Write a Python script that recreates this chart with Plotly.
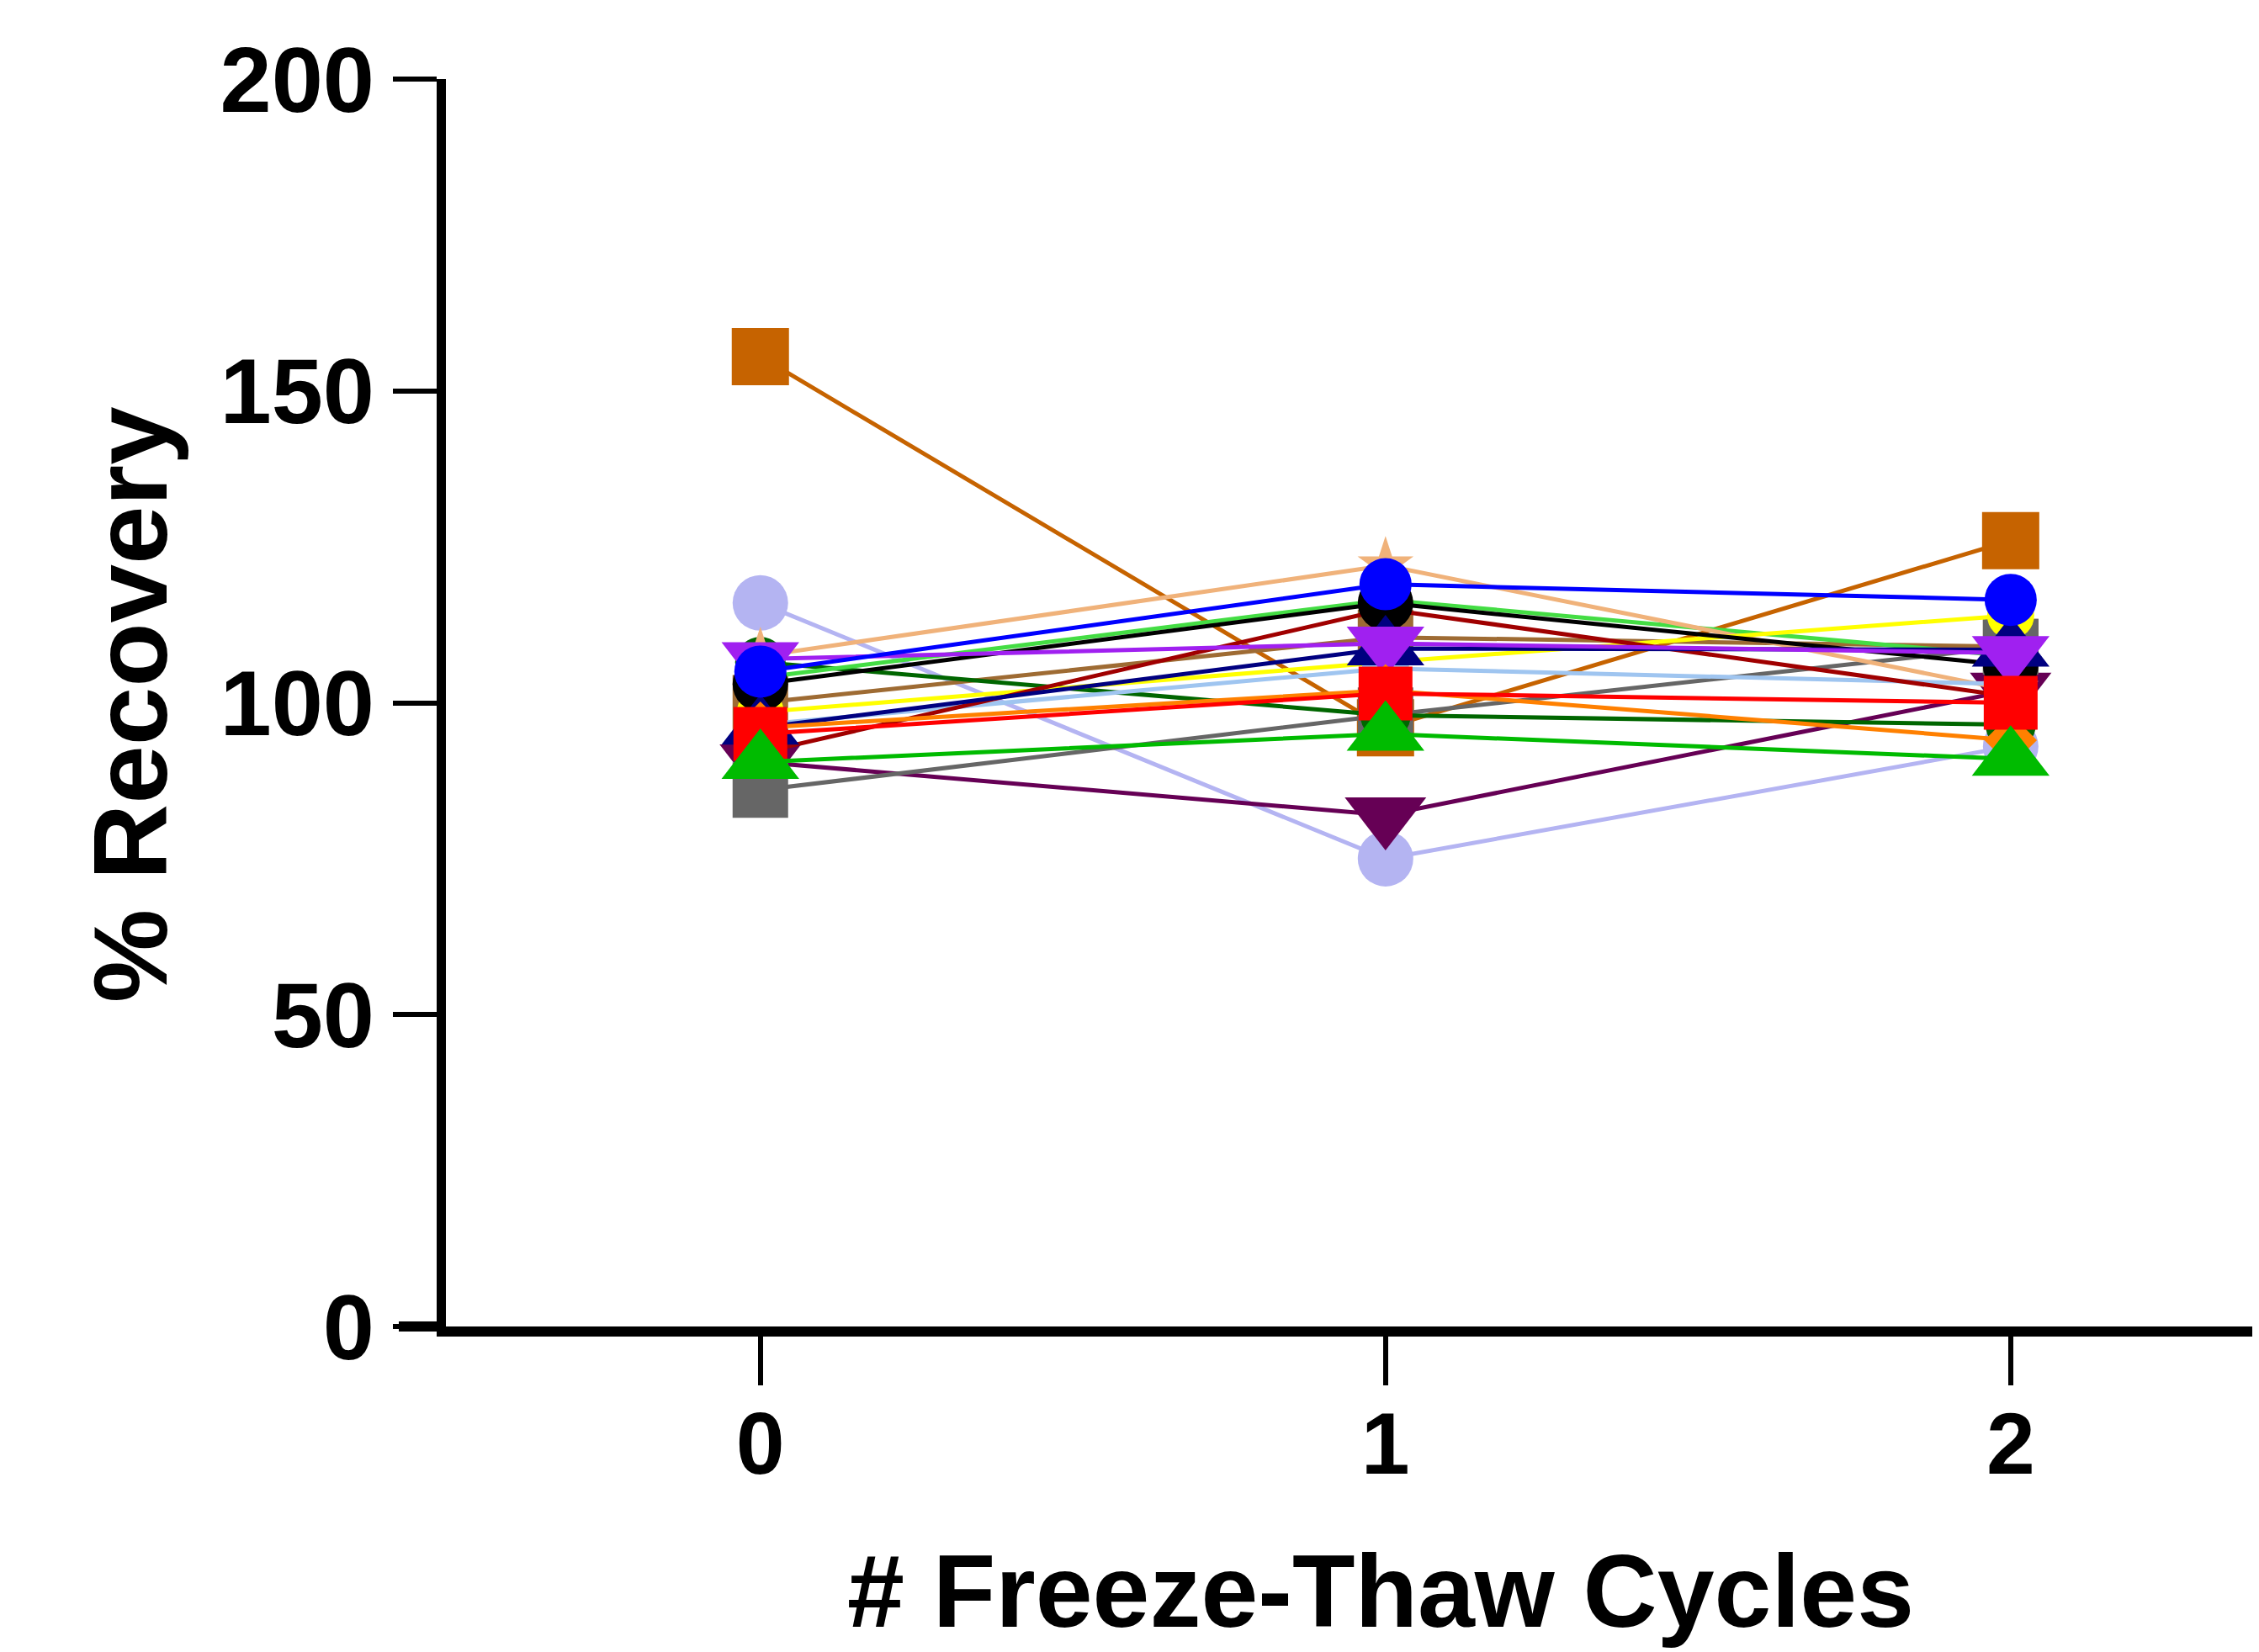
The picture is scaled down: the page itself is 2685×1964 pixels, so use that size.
import plotly.graph_objects as go

cycles = [0, 1, 2]
tick_vals_y = [0, 50, 100, 150, 200]
tick_text_x = ["0", "1", "2"]

lavender = [116, 75, 93]
dark_orange = [155.5, 96, 126]
brown = [100, 110.5, 109]
gray = [86, 98, 109]
dark_green = [106.5, 98, 96.5]
lime = [104, 116.5, 107.5]
tan = [107.5, 122, 102]
yellow = [98.5, 106.5, 114]
light_blue = [96.5, 105.5, 103]
dark_red = [92, 115, 101]
black = [103, 116, 106]
navy = [96, 108.7, 108.5]
purple = [107, 109.5, 108]
blue = [105, 119, 116.5]
orange = [96, 102, 94]
red = [95, 101.5, 100]
green = [90.5, 95, 91]
dark_purple = [90.5, 82, 102]

series = [
    ("Lavender", lavender, "#B4B4F2", "circle", 66),
    ("Dark purple", dark_purple, "#660055", "triangle-down", 84),
    ("Dark orange", dark_orange, "#C66300", "square", 68),
    ("Brown", brown, "#9E6B33", "square", 66),
    ("Gray", gray, "#666666", "square", 66),
    ("Dark green", dark_green, "#006600", "circle", 60),
    ("Lime", lime, "#44DD44", "circle", 56),
    ("Tan", tan, "#F0B27A", "star", 50),
    ("Yellow", yellow, "#FFFF00", "circle", 56),
    ("Light blue", light_blue, "#9FC5F0", "circle", 56),
    ("Dark red", dark_red, "#A00000", "star", 50),
    ("Black", black, "#000000", "circle", 66),
    ("Navy", navy, "#000080", "triangle-up", 80),
    ("Purple", purple, "#A020F0", "triangle-down", 80),
    ("Blue", blue, "#0000FF", "circle", 62),
    ("Orange", orange, "#FF8000", "diamond", 48),
    ("Red", red, "#FF0000", "square", 64),
    ("Green", green, "#00BB00", "triangle-up", 80),
]

fig = go.Figure()
for name, vals, color, symbol, size in series:
    fig.add_trace(go.Scatter(
        x=cycles, y=vals, name=name, mode="lines+markers",
        line=dict(color=color, width=5),
        marker=dict(symbol=symbol, size=size, color=color, line=dict(width=0)),
        cliponaxis=False,
    ))

FONT = "Liberation Sans, Arial, Helvetica, sans-serif"

W, H = 2685, 1964
ml, mr, mt, mb = 522, 0, 86, 395
pw = W - ml - mr
ph = H - mt - mb

fig.update_layout(
    width=W, height=H,
    margin=dict(l=ml, r=mr, t=mt, b=mb, pad=0),
    plot_bgcolor="white", paper_bgcolor="white",
    showlegend=False,
    font=dict(family=FONT, color="black"),
    xaxis=dict(
        range=[-0.503, 2.408], tickvals=cycles, ticktext=tick_text_x,
        showgrid=False, zeroline=False,
        showline=True, linecolor="black", linewidth=12,
        ticks="outside", ticklen=58, tickwidth=6, tickcolor="black",
        tickfont=dict(family=FONT, size=104, color="black", weight="bold"),
        ticklabelstandoff=-20,
    ),
    yaxis=dict(
        range=[0, 200], tickvals=tick_vals_y,
        showgrid=False, zeroline=False,
        showline=True, linecolor="black", linewidth=11,
        ticks="outside", ticklen=52, tickwidth=6, tickcolor="black",
        tickfont=dict(family=FONT, size=110, color="black", weight="bold"),
        ticklabelstandoff=0,
    ),
    annotations=[
        dict(text="<b>% Recovery</b>", xref="paper", yref="paper",
             x=(146 - ml) / pw, y=(H - mb - 830) / ph, xanchor="center", yanchor="middle",
             textangle=-90, showarrow=False,
             font=dict(family=FONT, size=125, color="black")),
        dict(text="<b># Freeze-Thaw Cycles</b>", xref="paper", yref="paper",
             x=(1633 - ml) / pw, y=(H - mb - 1884) / ph, xanchor="center", yanchor="middle",
             showarrow=False,
             font=dict(family=FONT, size=122, color="black")),
    ],
    shapes=[
        dict(type="line", xref="paper", yref="paper",
             x0=(466 - ml) / pw, x1=0, y0=0, y1=0,
             line=dict(color="black", width=12), layer="above"),
    ],
)

fig.write_html("out.html")
